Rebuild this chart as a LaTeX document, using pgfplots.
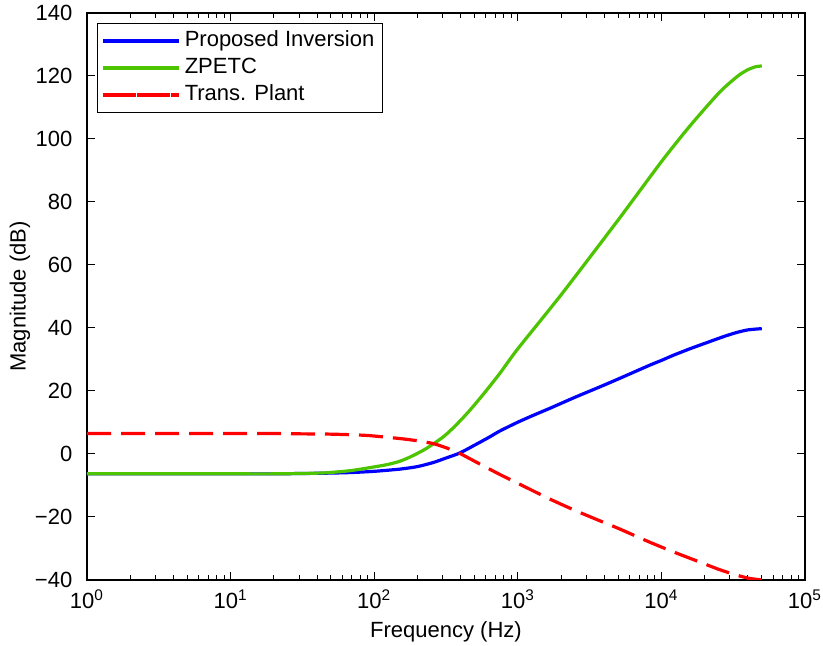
\documentclass[border=0pt]{standalone}
\usepackage{fontspec}
\setmainfont{Liberation Sans}
\usepackage{pgfplots}
\pgfplotsset{compat=1.18}
\definecolor{zpgreen}{RGB}{76,196,0}

% Magnitude responses (frequency in Hz, magnitude in dB)
\pgfplotstableread{
f      mag
1      -6.3
10     -6.3
20     -6.3
30     -6.2
45     -6.1
68     -5.9
100    -5.5
151    -4.8
200    -4.0
258    -2.7
320    -1.2
394     0.3
500     2.8
630     5.3
750     7.3
1000   10.1
1300   12.4
1671   14.5
2500   18.0
3724   21.3
5000   23.8
8300   28.2
10000  29.7
12050  31.3
16000  33.5
20000  35.1
26850  37.2
33000  38.5
40000  39.4
50000  39.8
}\inversion

\pgfplotstableread{
f      mag
1      -6.3
10     -6.3
20     -6.3
30     -6.2
45     -6.0
68     -5.3
100    -4.1
125    -3.3
151    -2.3
175    -1.1
200     0.2
230     1.7
258     3.2
300     5.3
337     7.3
400    10.7
464    13.9
530    17.0
600    20.0
750    25.6
1000   33.4
2000   50.5
5000   74.3
10000  92.8
14930 102.8
19950 109.5
25470 114.9
30000 117.9
35000 120.4
40000 122.0
45000 122.9
50000 123.2
}\zpetc

\pgfplotstableread{
f      mag
1       6.5
10      6.5
20      6.5
30      6.4
50      6.3
88.5    5.9
151     4.9
200     4.2
258     3.3
320     1.9
394     0.2
500    -2.3
750    -6.5
1000   -9.3
1671  -14.3
2500  -17.9
3724  -21.2
5000  -23.6
8300  -28.0
12000 -31.0
18500 -34.3
25000 -36.6
31500 -38.1
40000 -39.4
50000 -40.0
}\plant

\begin{document}
\fontsize{11pt}{13pt}\selectfont
\begin{tikzpicture}
\begin{semilogxaxis}[
  scale only axis,
  width=359pt, height=283.5pt,
  xmin=1, xmax=1e5, ymin=-40, ymax=140,
  xtick={1,10,100,1000,10000,100000},
  xticklabels={10\textsuperscript{0},10\textsuperscript{1},10\textsuperscript{2},10\textsuperscript{3},10\textsuperscript{4},10\textsuperscript{5}},
  ytick={-40,-20,0,20,40,60,80,100,120,140},
  yticklabels={−40,−20,0,20,40,60,80,100,120,140},
  tick pos=both,
  tick align=inside,
  major tick length=4pt,
  minor tick length=2.5pt,
  every tick/.style={black, line width=0.5pt},
  axis line style={line width=0.7pt},
  yticklabel style={xshift=-3.5pt},
  xticklabel style={yshift=-1pt},
  xlabel={Frequency (Hz)},
  ylabel={Magnitude (dB)},
  xlabel style={at={(axis description cs:0.5,-0.0917)}, anchor=center},
  ylabel style={at={(axis description cs:-0.0933,0.5)}, anchor=center},
  legend cell align=left,
  legend image code/.code={%
    \path (-4.5pt,0pt) -- (33.5pt,0pt);
    \draw[#1] (0pt,0pt) -- (33.5pt,0pt);},
  legend style={
    at={(axis description cs:0.0139,0.9824)}, anchor=north west,
    draw=black, line width=0.6pt, fill=white,
    inner xsep=2pt, inner ysep=2pt,
    nodes={text height=8pt, text depth=2.5pt, inner xsep=2pt, inner ysep=1.5pt},
    row sep=0pt,
  },
]
\addplot[blue, line width=1.6pt, smooth, tension=0.4] table[x=f, y=mag] {\inversion};
\addlegendentry{Proposed Inversion}
\addplot[zpgreen, line width=1.6pt, smooth, tension=0.4] table[x=f, y=mag] {\zpetc};
\addlegendentry{ZPETC}
\addplot[red, line width=1.6pt, dash pattern=on 12pt off 5pt, smooth, tension=0.4] table[x=f, y=mag] {\plant};
\addlegendentry{Trans. Plant}
\end{semilogxaxis}
\pgfresetboundingbox
\useasboundingbox (-43.5pt,-33pt) rectangle (368pt,290pt);
\end{tikzpicture}
\end{document}
